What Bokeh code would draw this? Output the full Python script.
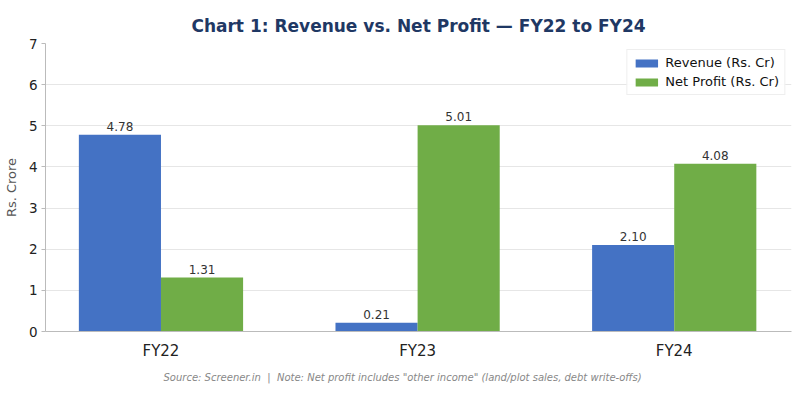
from bokeh.plotting import figure
from bokeh.models import ColumnDataSource, Range1d, Legend, LegendItem, Title, FixedTicker
from bokeh.transform import dodge
from bokeh.core.properties import value
from bokeh.embed import file_html
from bokeh.resources import INLINE

categories = ["FY22", "FY23", "FY24"]
revenue = [4.78, 0.21, 2.10]
net_profit = [1.31, 5.01, 4.08]
y_ticks = [0, 1, 2, 3, 4, 5, 6, 7]

FONT = "DejaVu Sans"
xs = list(range(len(categories)))
src = ColumnDataSource(dict(
    x=xs, rev=revenue, np=net_profit,
    rev_lbl=[f"{v:.2f}" for v in revenue],
    np_lbl=[f"{v:.2f}" for v in net_profit],
))

p = figure(width=800, height=400, output_backend="svg", toolbar_location=None,
           x_range=Range1d(-0.45, 2.457), y_range=Range1d(0, 7),
           min_border_left=0, min_border_right=9, min_border_top=43, min_border_bottom=69)

p.title.text = "Chart 1: Revenue vs. Net Profit \u2014 FY22 to FY24"
p.title.align = "center"
p.title.text_font = FONT
p.title.text_font_size = "17px"
p.title.text_font_style = "bold"
p.title.text_color = "#1f3864"
p.title.standoff = 15
p.title.offset = 0

W = 0.32
r1 = p.vbar(x=dodge("x", -W / 2, range=p.x_range), top="rev", width=W, source=src,
            fill_color="#4472C4", line_color=None)
r2 = p.vbar(x=dodge("x", W / 2, range=p.x_range), top="np", width=W, source=src,
            fill_color="#70AD47", line_color=None)

p.text(x=dodge("x", -W / 2, range=p.x_range), y="rev", text="rev_lbl", source=src,
       text_align="center", text_baseline="bottom", y_offset=-4,
       text_font=value(FONT), text_font_size="12px", text_color="#333333")
p.text(x=dodge("x", W / 2, range=p.x_range), y="np", text="np_lbl", source=src,
       text_align="center", text_baseline="bottom", y_offset=-4,
       text_font=value(FONT), text_font_size="12px", text_color="#333333")

p.xaxis.ticker = FixedTicker(ticks=xs)
p.xaxis.major_label_overrides = {i: c for i, c in zip(xs, categories)}
p.yaxis.ticker = FixedTicker(ticks=y_ticks)

for ax in (p.xaxis[0], p.yaxis[0]):
    ax.axis_line_color = "#bbbbbb"
    ax.major_tick_line_color = "#bbbbbb"
    ax.minor_tick_line_color = None
    ax.major_tick_out = 4
    ax.major_tick_in = 0
    ax.major_label_text_font = FONT
    ax.major_label_text_color = "#222222"

p.xaxis.major_tick_line_color = None
p.xaxis.major_label_text_font_size = "15px"
p.xaxis.major_label_standoff = 6
p.yaxis.major_label_text_font_size = "13.5px"
p.yaxis.major_label_standoff = 4
p.yaxis.axis_label = "Rs. Crore"
p.yaxis.axis_label_text_font = FONT
p.yaxis.axis_label_text_font_style = "normal"
p.yaxis.axis_label_text_font_size = "13px"
p.yaxis.axis_label_text_color = "#555555"
p.yaxis.axis_label_standoff = 7

p.xgrid.grid_line_color = None
p.ygrid.grid_line_color = "#e6e6e6"
p.outline_line_color = None

legend = Legend(items=[LegendItem(label="Revenue (Rs. Cr)", renderers=[r1]),
                       LegendItem(label="Net Profit (Rs. Cr)", renderers=[r2])],
                location="top_right")
legend.label_text_font = FONT
legend.label_text_font_size = "13px"
legend.label_text_color = "#111111"
legend.glyph_width = 28
legend.glyph_height = 10
legend.label_height = 14
legend.spacing = 4
legend.padding = 5
legend.margin = 6
legend.border_line_color = "#dddddd"
legend.background_fill_alpha = 0.9
p.add_layout(legend)

note = Title(text='Source: Screener.in\u00a0\u00a0|\u00a0\u00a0Note: Net profit includes "other income" (land/plot sales, debt write-offs)',
             align="left", offset=118, text_font=FONT, text_font_size="10px",
             text_font_style="italic", text_color="#888888", standoff=14)
p.add_layout(note, "below")

open("out.html", "w").write(file_html(p, INLINE))
